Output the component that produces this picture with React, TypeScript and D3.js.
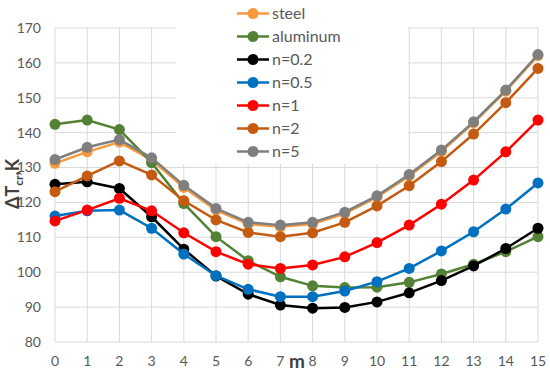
import { useEffect, useRef } from "react"
import * as d3 from "d3"

const mValues = d3.range(0, 16)
const yTicks = [80, 90, 100, 110, 120, 130, 140, 150, 160, 170]

const steel = [131.2, 134.5, 137.3, 132.2, 124.3, 117.8, 113.8, 113.0, 113.8, 116.8, 121.5, 127.6, 134.6, 142.8, 151.9, 162.1]
const aluminum = [142.4, 143.6, 140.9, 131.4, 119.7, 110.2, 103.3, 98.7, 96.1, 95.6, 95.7, 97.1, 99.5, 102.3, 105.9, 110.2]
const n02 = [125.2, 125.9, 124.0, 115.9, 106.6, 98.9, 93.7, 90.6, 89.7, 89.9, 91.5, 94.1, 97.6, 101.8, 106.8, 112.6]
const n05 = [116.1, 117.6, 117.8, 112.6, 105.2, 99.0, 95.1, 93.0, 93.0, 94.6, 97.3, 101.1, 106.1, 111.6, 118.1, 125.6]
const n1 = [114.7, 117.8, 121.2, 117.6, 111.3, 105.9, 102.3, 101.1, 102.1, 104.4, 108.5, 113.5, 119.5, 126.4, 134.5, 143.6]
const n2 = [123.1, 127.6, 131.9, 127.9, 120.5, 115.0, 111.4, 110.2, 111.3, 114.3, 119.0, 124.8, 131.7, 139.6, 148.6, 158.4]
const n5 = [132.3, 135.8, 138.0, 132.8, 124.9, 118.3, 114.3, 113.5, 114.3, 117.2, 121.9, 128.0, 135.0, 143.1, 152.2, 162.4]

const seriesNames = ["steel", "aluminum", "n=0.2", "n=0.5", "n=1", "n=2", "n=5"]
const seriesValues = [steel, aluminum, n02, n05, n1, n2, n5]
const seriesColors = ["#F79A3E", "#548235", "#000000", "#0070C0", "#FF0000", "#C55A11", "#7F7F7F"]

const W = 550
const H = 375
const font = "Lato, 'Open Sans', sans-serif"

const App = () => {
  const svgRef = useRef<SVGSVGElement>(null)

  useEffect(() => {
    const svg = d3.select(svgRef.current)
    svg.selectAll("*").remove()

    const x = d3.scaleLinear().domain([0, 15]).range([55, 538])
    const y = d3.scaleLinear().domain([80, 170]).range([342, 28])

    const grid = svg.append("g")
    grid
      .selectAll("line.h")
      .data(yTicks)
      .enter()
      .append("line")
      .attr("x1", x(0))
      .attr("x2", x(15))
      .attr("y1", (d) => y(d))
      .attr("y2", (d) => y(d))
      .attr("stroke", "#d9d9d9")
      .attr("stroke-width", 1)
    grid
      .selectAll("line.v")
      .data(mValues)
      .enter()
      .append("line")
      .attr("x1", (d) => x(d))
      .attr("x2", (d) => x(d))
      .attr("y1", y(170))
      .attr("y2", y(80))
      .attr("stroke", "#d9d9d9")
      .attr("stroke-width", 1)

    // y tick labels
    svg
      .append("g")
      .selectAll("text")
      .data(yTicks)
      .enter()
      .append("text")
      .attr("x", 41)
      .attr("y", (d) => y(d))
      .attr("dy", "0.35em")
      .attr("text-anchor", "end")
      .attr("font-family", font)
      .attr("font-size", 14)
      .attr("fill", "#595959")
      .text((d) => d)

    // x tick labels
    svg
      .append("g")
      .selectAll("text")
      .data(mValues)
      .enter()
      .append("text")
      .attr("x", (d) => x(d))
      .attr("y", 366)
      .attr("text-anchor", "middle")
      .attr("font-family", font)
      .attr("font-size", 14)
      .attr("fill", "#595959")
      .text((d) => d)

    // axis titles
    svg
      .append("text")
      .attr("x", 297)
      .attr("y", 368)
      .attr("text-anchor", "middle")
      .attr("font-family", font)
      .attr("font-size", 19)
      .attr("font-weight", "bold")
      .attr("fill", "#404040")
      .text("m")

    const yTitle = svg
      .append("text")
      .attr("transform", "translate(19,184) rotate(-90)")
      .attr("text-anchor", "middle")
      .attr("font-family", font)
      .attr("font-size", 18)
      .attr("font-weight", "bold")
      .attr("fill", "#404040")
    yTitle.append("tspan").text("ΔT")
    yTitle.append("tspan").attr("font-size", 12).attr("dy", 4).text("cr")
    yTitle.append("tspan").attr("dy", -4).text(",K")

    // legend background hides grid
    svg
      .append("rect")
      .attr("x", 176)
      .attr("y", 0)
      .attr("width", 232)
      .attr("height", 164)
      .attr("fill", "#fff")

    const line = d3
      .line<number>()
      .x((d, i) => x(mValues[i]))
      .y((d) => y(d))

    seriesValues.forEach((vals, si) => {
      const g = svg.append("g")
      g.append("path")
        .datum(vals)
        .attr("d", line)
        .attr("fill", "none")
        .attr("stroke", seriesColors[si])
        .attr("stroke-width", 2.5)
      g.selectAll("circle")
        .data(vals)
        .enter()
        .append("circle")
        .attr("cx", (d, i) => x(mValues[i]))
        .attr("cy", (d) => y(d))
        .attr("r", 5.5)
        .attr("fill", seriesColors[si])
    })

    // legend
    const leg = svg
      .append("g")
      .selectAll("g")
      .data(seriesNames)
      .enter()
      .append("g")
      .attr("transform", (d, i) => `translate(0,${13.5 + i * 23})`)
    leg
      .append("line")
      .attr("x1", 237)
      .attr("x2", 269)
      .attr("stroke", (d, i) => seriesColors[i])
      .attr("stroke-width", 2.5)
    leg
      .append("circle")
      .attr("cx", 253)
      .attr("r", 5.5)
      .attr("fill", (d, i) => seriesColors[i])
    leg
      .append("text")
      .attr("x", 272)
      .attr("dy", "0.35em")
      .attr("font-family", font)
      .attr("font-size", 16)
      .attr("fill", "#595959")
      .text((d) => d)
  }, [])

  return (
    <svg
      ref={svgRef}
      width={W}
      height={H}
      style={{ position: "absolute", left: 0, top: 0, background: "#fff" }}
    ></svg>
  )
}

export default App
